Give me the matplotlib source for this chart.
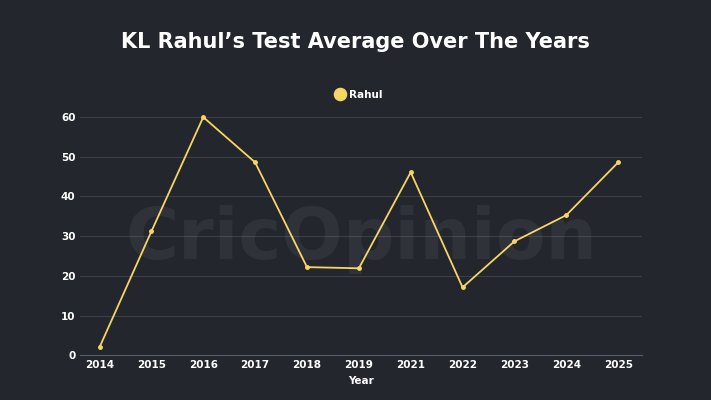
import matplotlib.pyplot as plt

years = ["2014", "2015", "2016", "2017", "2018", "2019", "2021", "2022", "2023", "2024", "2025"]
average = [2.0, 31.2, 60.0, 48.6, 22.2, 21.9, 46.1, 17.1, 28.7, 35.3, 48.6]

bg = "#24262e"
line_col = "#f5d565"

fig = plt.figure(figsize=(7.11, 4.0), dpi=100, facecolor=bg)
ax = fig.add_axes([0.113, 0.112, 0.79, 0.615], facecolor=bg)

x = list(range(len(years)))
ax.plot(x, average, color=line_col, linewidth=1.3, marker="o", markersize=2.5, label="Rahul")

# faint watermark
ax.text(0.5, 0.47, "CricOpinion", transform=ax.transAxes, ha="center", va="center",
        fontsize=52, fontweight="bold", color="#ffffff", alpha=0.06)

ax.set_xlim(-0.37, len(years) - 1 + 0.46)
ax.set_ylim(0, 62)
ax.set_yticks([0, 10, 20, 30, 40, 50, 60])
ax.set_xticks(x)
ax.set_xticklabels(years)
ax.grid(axis="y", color="#3c3f48", linewidth=0.8)
ax.set_axisbelow(True)
for s in ["top", "right", "left"]:
    ax.spines[s].set_visible(False)
ax.spines["bottom"].set_color("#5a5d66")
ax.tick_params(colors="white", labelsize=7.5, length=0)
for lbl in ax.get_xticklabels() + ax.get_yticklabels():
    lbl.set_fontweight("bold")
ax.set_xlabel("Year", color="white", fontsize=7.5, fontweight="bold", labelpad=4)

leg = ax.legend(loc="lower center", bbox_to_anchor=(0.5, 1.0), frameon=False,
                fontsize=7.5, handlelength=0, markerscale=3.5, handletextpad=0.8)
for t in leg.get_texts():
    t.set_color("white")
    t.set_fontweight("bold")
for h in leg.legend_handles:
    h.set_linestyle("none")

fig.text(0.5, 0.895, "KL Rahul\u2019s Test Average Over The Years", ha="center", va="center",
         color="white", fontsize=15, fontweight="bold")

fig.savefig("out.png", dpi=100, facecolor=bg)
